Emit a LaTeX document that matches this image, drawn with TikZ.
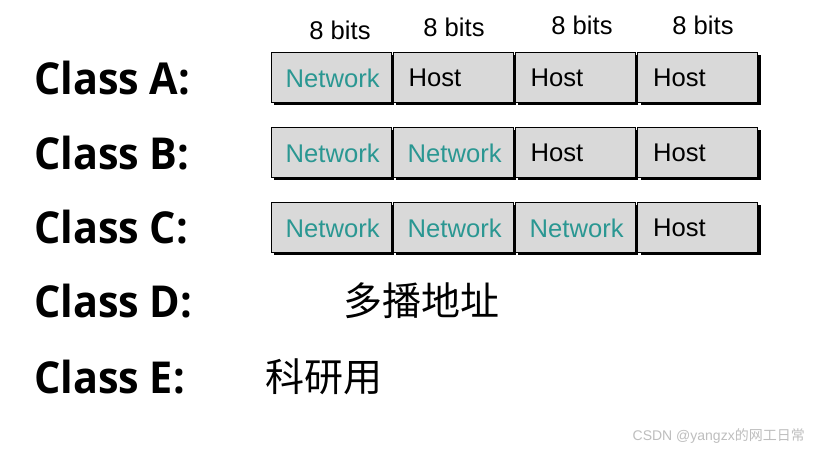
\documentclass[tikz,border=0pt]{standalone}
\usepackage{fontspec}
\setmainfont{Liberation Sans}
\newfontfamily\classfont{Open Sans}
\newfontfamily\cjk{Noto Sans CJK SC}
\usetikzlibrary{shadows}
\definecolor{netteal}{HTML}{2A9792}
\definecolor{boxgray}{HTML}{D9D9D9}
\definecolor{wmgray}{HTML}{BEBEBE}
\tikzset{
  fieldbox/.style={draw=black, line width=1pt, fill=boxgray, minimum width=120pt, minimum height=50pt, inner sep=0pt,
    drop shadow={shadow xshift=3pt, shadow yshift=-3pt, fill=black, opacity=1}},
  fieldtext/.style={font=\fontsize{25.6}{30}\selectfont, inner sep=0pt, anchor=west},
  nettext/.style={fieldtext, text=netteal},
  hosttext/.style={fieldtext, text=black},
  bitslabel/.style={font=\fontsize{25.6}{30}\selectfont, inner sep=0pt},
  classlabel/.style={font=\classfont\bfseries\fontsize{44}{50}\selectfont, inner sep=0pt, anchor=west, xscale=0.94},
  cjklabel/.style={font=\cjk\fontsize{39}{44}\selectfont, inner sep=0pt, anchor=west},
}
\begin{document}
\begin{tikzpicture}[x=1pt, y=-1pt]
\useasboundingbox[fill=white] (0,0) rectangle (817,451);
% bits labels
\node[bitslabel] (b1) at (340,30) {8 bits};
\node[bitslabel] (b2) at (454,27) {8 bits};
\node[bitslabel] (b3) at (582,25) {8 bits};
\node[bitslabel] (b4) at (703,25) {8 bits};
% class labels
\node[classlabel] (ca) at (34,78) {Class A:};
\node[classlabel] (cb) at (34,153) {Class B:};
\node[classlabel] (cc) at (34,227) {Class C:};
\node[classlabel] (cd) at (34,301) {Class D:};
\node[classlabel] (ce) at (34,377) {Class E:};
% rows
\foreach \r/\yy/\nn in {a/77/1, b/152/2, c/227/3}{
  \foreach \c/\xx in {1/331, 2/453, 3/575, 4/697.5}{
    \node[fieldbox] (\r\c) at (\xx,\yy) {};
    \ifnum\c>\nn
      \node[hosttext] (\r\c t) at ([xshift=16pt, yshift=-1pt]\r\c.west) {Host};
    \else
      \node[nettext] (\r\c t) at ([xshift=15pt, yshift=-1pt]\r\c.west) {Network};
    \fi
  }
}
% CJK labels
\node[cjklabel] (dlab) at (343,301) {多播地址};
\node[cjklabel] (elab) at (265,377) {科研用};
% watermark
\node[font=\fontsize{14}{16}\selectfont, text=wmgray, anchor=east, inner sep=0pt] (wm) at (805,436) {CSDN @yangzx{\cjk 的网工日常}};
\end{tikzpicture}
\end{document}
